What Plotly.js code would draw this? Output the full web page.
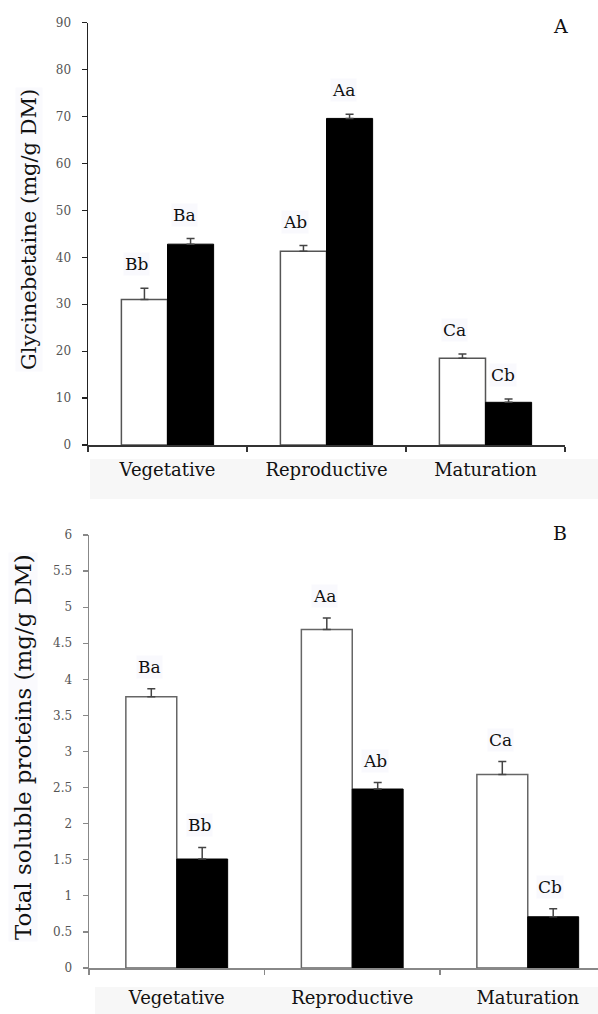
<!DOCTYPE html>
<html>
<head>
<meta charset="utf-8">
<script src="https://cdn.plot.ly/plotly-3.0.1.min.js"></script>
<style>html,body{margin:0;padding:0;background:#fff;}#chart{width:598px;height:1014px;}</style>
</head>
<body>
<div id="chart"></div>
<script>
// ---- data ----
const stages = ['Vegetative', 'Reproductive', 'Maturation'];

const gbControl = [31.0, 41.3, 18.5];
const gbControlErr = [2.4, 1.2, 0.9];
const gbStress = [42.8, 69.6, 9.1];
const gbStressErr = [1.2, 0.9, 0.7];
const gbControlLetters = ['Bb', 'Ab', 'Ca'];
const gbStressLetters = ['Ba', 'Aa', 'Cb'];

const tspControl = [3.76, 4.69, 2.68];
const tspControlErr = [0.11, 0.16, 0.18];
const tspStress = [1.51, 2.48, 0.71];
const tspStressErr = [0.16, 0.09, 0.11];
const tspControlLetters = ['Ba', 'Aa', 'Ca'];
const tspStressLetters = ['Bb', 'Ab', 'Cb'];

const gbTicks = [0, 10, 20, 30, 40, 50, 60, 70, 80, 90];
const tspTicks = [0, 0.5, 1, 1.5, 2, 2.5, 3, 3.5, 4, 4.5, 5, 5.5, 6];

// ---- styles ----
const serif = 'DejaVu Serif, Liberation Serif, serif';
const W = 598, H = 1014;

function barTrace(y, err, color, lineColor, lineW, xa, ya, group) {
  return {
    type: 'bar', x: stages, y: y, xaxis: xa, yaxis: ya, offsetgroup: group,
    marker: {color: color, line: {color: lineColor, width: lineW}},
    error_y: {type: 'data', array: err, arrayminus: err.map(() => 0), symmetric: false,
              color: '#444', thickness: 1.5, width: 4},
    showlegend: false, hoverinfo: 'skip'
  };
}

const data = [
  barTrace(gbControl, gbControlErr, '#ffffff', '#555', 1.5, 'x', 'y', 'c'),
  barTrace(gbStress, gbStressErr, '#000000', '#000', 1, 'x', 'y', 's'),
  barTrace(tspControl, tspControlErr, '#ffffff', '#666', 1.5, 'x2', 'y2', 'c'),
  barTrace(tspStress, tspStressErr, '#000000', '#000', 1, 'x2', 'y2', 's')
];

const annotations = [];
const off = 0.145;
function letters(vals, errs, labs, sign, xr, yr, xs, ys) {
  vals.forEach((v, i) => {
    annotations.push({
      xref: xr, yref: yr, x: i + sign * off, y: v + errs[i], text: labs[i],
      showarrow: false, xshift: xs, yshift: ys, xanchor: 'center', yanchor: 'middle',
      font: {family: serif, size: 17, color: '#111'}, bgcolor: 'rgba(246,247,252,0.7)'
    });
  });
}
letters(gbControl, gbControlErr, gbControlLetters, -1, 'x', 'y', -8, 24);
letters(gbStress, gbStressErr, gbStressLetters, 1, 'x', 'y', -6, 24);
letters(tspControl, tspControlErr, tspControlLetters, -1, 'x2', 'y2', -2, 22);
letters(tspStress, tspStressErr, tspStressLetters, 1, 'x2', 'y2', -3, 22);

annotations.push(
  {xref: 'paper', yref: 'paper', x: 560 / W, y: 1 - 26 / H, text: 'A', showarrow: false,
   xanchor: 'center', yanchor: 'middle', font: {family: serif, size: 19, color: '#111'}},
  {xref: 'paper', yref: 'paper', x: 560 / W, y: 1 - 533 / H, text: 'B', showarrow: false,
   xanchor: 'center', yanchor: 'middle', font: {family: serif, size: 19, color: '#111'}},
  {xref: 'paper', yref: 'paper', x: 29 / W, y: 1 - 230 / H, text: 'Glycinebetaine (mg/g DM)',
   textangle: -90, showarrow: false, xanchor: 'center', yanchor: 'middle',
   font: {family: serif, size: 21, color: '#111'}, bgcolor: 'rgba(246,247,252,0.6)'},
  {xref: 'paper', yref: 'paper', x: 23 / W, y: 1 - 747 / H, text: 'Total soluble proteins (mg/g DM)',
   textangle: -90, showarrow: false, xanchor: 'center', yanchor: 'middle',
   font: {family: serif, size: 23, color: '#111'}, bgcolor: 'rgba(246,247,252,0.6)'}
);

const shapes = [
  {type: 'rect', xref: 'paper', yref: 'paper', x0: 90 / W, x1: 1, y0: 1 - 499 / H, y1: 1 - 459 / H,
   fillcolor: '#f7f7f7', line: {width: 0}, layer: 'below'},
  {type: 'rect', xref: 'paper', yref: 'paper', x0: 95 / W, x1: 1, y0: 0, y1: 1 - 987 / H,
   fillcolor: '#f7f7f7', line: {width: 0}, layer: 'below'}
];

function xax(domain, range, color, standoff) {
  return {domain: domain, range: range, type: 'category', showline: true, linecolor: color, linewidth: 1.5,
          ticks: 'outside', tickson: 'boundaries', ticklen: 5, tickcolor: color, tickwidth: 1.2,
          showgrid: false, zeroline: false, ticklabelstandoff: standoff,
          tickfont: {family: serif, size: 18, color: '#111'}, fixedrange: true};
}
function yax(domain, range, ticks, color, xa) {
  return {domain: domain, range: range, anchor: xa, showline: true, linecolor: color, linewidth: 1.5,
          ticks: 'outside', ticklen: 5, tickcolor: color, tickwidth: 1.2, tickvals: ticks,
          ticktext: ticks.map(String), showgrid: false, zeroline: false, ticklabelstandoff: 8,
          tickfont: {family: serif, size: 12, color: '#555'}, fixedrange: true};
}

const layout = {
  width: W, height: H, margin: {l: 0, r: 0, t: 0, b: 0},
  paper_bgcolor: '#fff', plot_bgcolor: 'rgba(0,0,0,0)',
  barmode: 'group', bargap: 0.42, bargroupgap: 0,
  xaxis: Object.assign(xax([88 / W, 565 / W], [-0.5, 2.5], '#333', 8), {anchor: 'y'}),
  yaxis: yax([1 - 445 / H, 1 - 22.7 / H], [0, 90], gbTicks, '#222', 'x'),
  xaxis2: Object.assign(xax([89 / W, 1], [-0.5, (W - 89) / 175.5 - 0.5], '#888', 13), {anchor: 'y2'}),
  yaxis2: yax([1 - 968 / H, 1 - 535 / H], [0, 6], tspTicks, '#888', 'x2'),
  annotations: annotations, shapes: shapes, showlegend: false
};

Plotly.newPlot('chart', data, layout, {displayModeBar: false, staticPlot: true});
</script>
</body>
</html>
